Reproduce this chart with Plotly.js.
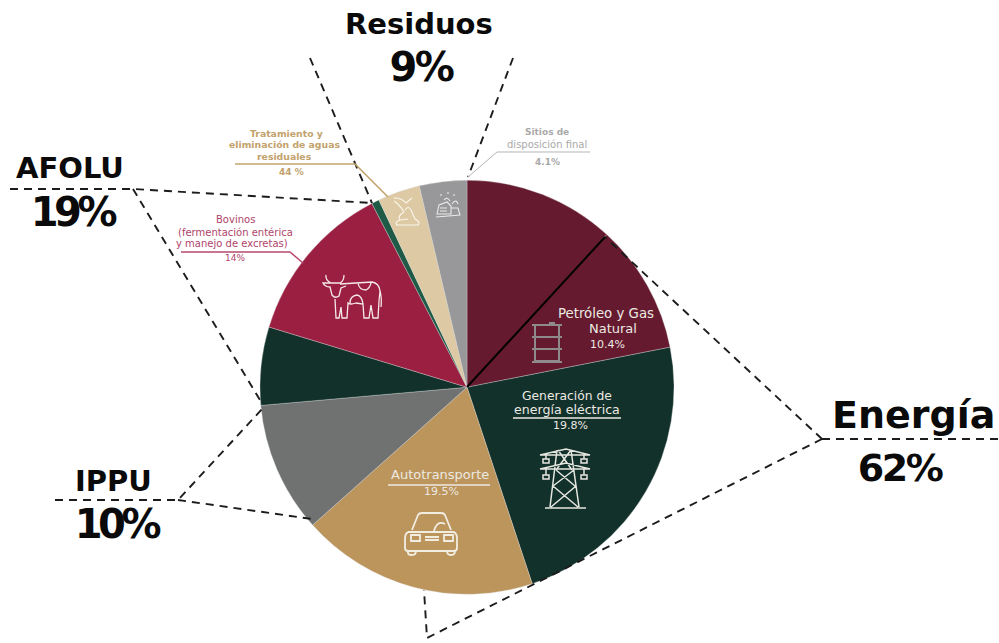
<!DOCTYPE html>
<html><head><meta charset="utf-8">
<script src="https://cdn.plot.ly/plotly-3.0.1.min.js"></script>
<style>
html,body{margin:0;padding:0;background:#fff}
#c{width:999px;height:643px}
.annotation[data-index="0"] text,.annotation[data-index="1"] text{letter-spacing:-4.5px}
.annotation[data-index="2"] text{letter-spacing:-2.5px}
.annotation[data-index="3"] text{letter-spacing:-2.5px}
</style></head><body><div id="c"></div>
<script>
// ---- data ----
const sliceNames = ["Energía (otras fuentes)","Petróleo y Gas Natural","Generación de energía eléctrica","Autotransporte","IPPU","AFOLU (otros)","Bovinos","AFOLU (otros 2)","Tratamiento y eliminación de aguas residuales","Sitios de disposición final"];
const sliceValues = [11.8,10.1,23.0,18.5,10.2,6.1,12.7,0.6,3.3,3.7];
const sliceColors = ["#651a2f","#651a2f","#12312b","#bc955c","#6f7271","#12312b","#9b1f40","#1f5a47","#ddc9a3","#98989a"];

const W=999,H=643;
const px=x=>x/W, py=y=>1-y/H;
const W_TXT="#ece9e2", TAN="#c2a26c", ROSE="#b0446a", GREY="#a9a9a9";
const BIG="DejaVu Sans";

// [text, x, y, size, color, bold]
const labels = [
 ["19%",72,212,40,"#0a0a0a",true],
 ["10%",116,524,40,"#0a0a0a",true],
 ["9%",421,67,40,"#0a0a0a",true],
 ["62%",899,468,38,"#0a0a0a",true],
 ["Residuos",419,24,29,"#0a0a0a",true],
 ["AFOLU",70,168,29,"#0a0a0a",true],
 ["IPPU",113,481,29,"#0a0a0a",true],
 ["Energía",913,415,38,"#0a0a0a",true],
 ["Tratamiento y",286,133.5,9.3,TAN,true],
 ["eliminación de aguas",284,145,9.3,TAN,true],
 ["residuales",284,156.5,9.3,TAN,true],
 ["44 %",291,172,9,TAN,true],
 ["Bovinos",235,220,10,ROSE,false],
 ["(fermentación entérica",235,232,10,ROSE,false],
 ["y manejo de excretas)",232,243,10,ROSE,false],
 ["14%",235,258,9,ROSE,false],
 ["Sitios de",547,132,9,GREY,true],
 ["disposición final",547,144,10,GREY,false],
 ["4.1%",547,162,9,GREY,true],
 ["Petróleo y Gas",606,313,13.3,W_TXT,false],
 ["Natural",613,328,13,W_TXT,false],
 ["10.4%",607,344,11,W_TXT,false],
 ["Generación de",567,395.5,12.3,W_TXT,false],
 ["energía eléctrica",567,409,12.6,W_TXT,false],
 ["19.8%",570,425,11,W_TXT,false],
 ["Autotransporte",440,474,13,W_TXT,false],
 ["19.5%",441,491,11,W_TXT,false]
];

const toPaper = d => d.replace(/(-?\d+(?:\.\d+)?) (-?\d+(?:\.\d+)?)/g,(m,a,b)=>px(+a).toFixed(5)+","+py(+b).toFixed(5));
const pathShape=(d,color,width,dash)=>({type:"path",xref:"paper",yref:"paper",layer:"above",path:toPaper(d),
  line:{color:color,width:width,dash:dash||"solid"}});

const dashed = [
 "M310 58 L372 203","M513 58 L468 177",
 "M10 189 L133 189 L372 203","M133 189 L263 405",
 "M55 500 L178 500 L263 408","M178 500 L312 519",
 "M822 439 L999 439","M822 439 L605 237","M822 439 L427 638 L424 590"
];
const leaders = [
 ["M235 164 L355 164 L388 197",TAN,1.5],
 ["M181 252 L290 252 L303 263","#b8496e",1.5],
 ["M468 177 L497 152 L590 152","#b5b5b5",1],
 ["M513 418 L621 418",W_TXT,1.3],
 ["M388 485 L490 485",W_TXT,1.3]
];
const barrel = "M535 325 L559 325 L559 361 L535 361 Z M532 325 L562 325 M532 337 L562 337 M532 349 L562 349 M532 362 L562 362 M549 323 L555 323";
const tower = "M540 455 L566 449 L590 455 Z M540 469 L566 463 L590 469 Z M557 450 L550 507 M571 450 L579 507 M545 508 L586 508 M558 450 L572 470 M571 450 L556 470 M556 470 L575 486 M574 470 L553 486 M553 486 L578 507 M576 486 L551 507 M546 455 L546 459 M543 459 L549 459 L549 463 L543 463 Z M584 455 L584 459 M581 459 L587 459 L587 463 L581 463 Z M546 469 L546 475 M543 475 L549 475 L549 479 L543 479 Z M584 469 L584 475 M581 475 L587 475 L587 479 L581 479 Z";
const car = "M412 530 L418 515 Q419 513 422 513 L441 513 Q444 513 445 515 L451 530 M408 532 Q405 534 405 538 L405 548 Q405 551 408 551 L454 551 Q457 551 457 548 L457 538 Q457 534 454 532 L408 532 M408 551 L408 553 Q408 555 412 555 Q416 555 416 551 M447 551 Q447 555 451 555 Q455 555 455 551 M411 535 L420 535 L420 541 L411 541 Z M444 535 L453 535 L453 541 L444 541 Z M425 537 L439 537 M425 540 L439 540 M434 531 Q437 520 445 524";
const cow = "M326 275 Q325 280 331 283 L340 283 Q344 281 344 275 M331 283 L323 283 Q325 287 330 287 L332 295 Q335 299 339 296 L341 288 L346 286 M340 284 L372 282 Q379 283 380 291 L379 301 L378 318 L373 318 L371 305 L369 318 L364 318 L363 304 L356 303 Q350 305 348 303 L347 318 L342 318 L341 307 L339 318 L336 318 L335 299 M380 291 Q382 298 381 307 M350 303 Q350 296 357 295 Q362 296 363 304 M358 283 Q359 290 366 290 Q370 288 371 283";
const waterIcon = "M394 198 Q402 198 406 203 L412 198 M394 201 Q400 205 404 212 Q397 216 400 220 M396 225 L418 225 Q421 222 415 219 L411 210 Q408 205 405 210 M400 220 L408 219 M397 225 Q394 222 400 220";
const siteIcon = "M437 214 L439 205 L447 202 L451 206 L451 214 Z M451 208 L458 208 L460 215 L436 217 M441 194 L441 196 M448 192 L448 194 M454 194 L454 196 M444 200 Q447 196 450 201 M452 204 Q456 198 458 204 M440 208 L447 208 M440 211 L447 211";

const shapes=[
 {type:"line",xref:"paper",yref:"paper",layer:"above",x0:px(467),y0:py(387),x1:px(605),y1:py(237),line:{color:"#000",width:2}},
 ...dashed.map(d=>pathShape(d,"#1c1c1c",1.9,"8px,6px")),
 ...leaders.map(l=>pathShape(l[0],l[1],l[2])),
 pathShape(barrel,"#8f8a8b",2),
 pathShape(tower,"#e6e6e0",1.5),
 pathShape(car,"#f2ede3",1.8),
 pathShape(cow,"#f4e9ea",1.3),
 pathShape(waterIcon,"#fbf6ec",1.1),
 pathShape(siteIcon,"#e9e9e9",1.1)
];

const annotations = labels.map(l=>({
  text:l[5]?"<b>"+l[0]+"</b>":l[0], x:px(l[1]), y:py(l[2]), xref:"paper", yref:"paper",
  xanchor:"center", yanchor:"middle", showarrow:false, borderpad:0,
  font:{family:BIG,size:l[3],color:l[4]}
}));

Plotly.newPlot("c",[{
  type:"pie", labels:sliceNames, values:sliceValues, sort:false, direction:"clockwise", rotation:0,
  marker:{colors:sliceColors,line:{color:"rgba(225,225,225,0.55)",width:0.6}},
  textinfo:"none", hoverinfo:"label+percent", showlegend:false,
  domain:{x:[px(260),px(674)],y:[py(594.5),py(180)]}
}],{
  width:W,height:H,margin:{l:0,r:0,t:0,b:0},paper_bgcolor:"#fff",showlegend:false,
  shapes:shapes,annotations:annotations
},{displayModeBar:false,staticPlot:true});
</script></body></html>
